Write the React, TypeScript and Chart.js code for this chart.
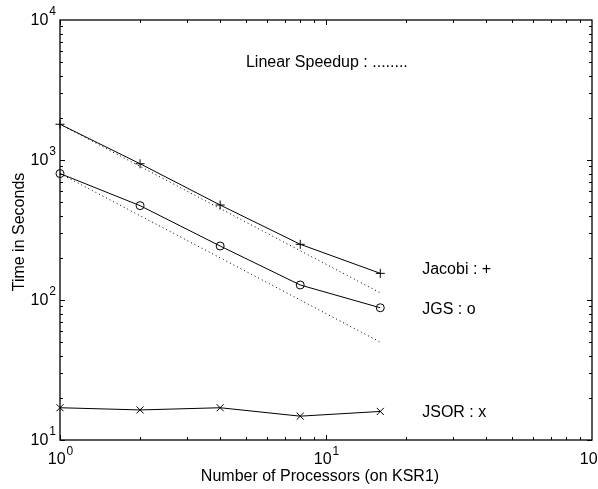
import React, { useEffect, useRef } from "react";
import { Chart, registerables } from "chart.js";

Chart.register(...registerables);

const processors = [1, 2, 4, 8, 16];
const jacobiTimes = [1800, 940, 477, 250, 155];
const jgsTimes = [800, 472, 243, 128, 88];
const jsorTimes = [17.0, 16.4, 17.0, 14.8, 16.0];
const jacobiLinear = [1800, 900, 450, 225, 112.5];
const jgsLinear = [800, 400, 200, 100, 50];

const xTickExps = [0, 1, 2];
const yTickExps = [1, 2, 3, 4];

const annotations = [
  { text: "Linear Speedup : ........", x: 5.0, y: 5000 },
  { text: "Jacobi : +", x: 23, y: 164 },
  { text: "JGS : o", x: 23, y: 85 },
  { text: "JSOR : x", x: 23, y: 15.8 },
];

const xTitle = "Number of Processors (on KSR1)";
const yTitle = "Time in Seconds";

const FONT = "'Liberation Sans', Arial, Helvetica, sans-serif";

const toPts = (ys: number[]) => processors.map((x, i) => ({ x, y: ys[i] }));

const framePlugin = {
  id: "frame",
  afterDraw(chart: any) {
    const ctx = chart.ctx as CanvasRenderingContext2D;
    const { left, right, top, bottom } = chart.chartArea;
    const xs = chart.scales.x;
    const ys = chart.scales.y;
    ctx.save();
    ctx.strokeStyle = "#000";
    ctx.fillStyle = "#000";
    ctx.lineWidth = 1.3;
    ctx.strokeRect(left, top, right - left, bottom - top);

    ctx.lineWidth = 1;
    ctx.beginPath();
    for (let e = 0; e < 2; e++) {
      for (let m = 1; m <= 9; m++) {
        const v = m * Math.pow(10, e);
        const px = Math.round(xs.getPixelForValue(v)) + 0.5;
        const len = m === 1 ? 5 : 3;
        ctx.moveTo(px, bottom);
        ctx.lineTo(px, bottom - len);
        ctx.moveTo(px, top);
        ctx.lineTo(px, top + len);
      }
    }
    for (let e = 1; e < 4; e++) {
      for (let m = 1; m <= 9; m++) {
        const v = m * Math.pow(10, e);
        const py = Math.round(ys.getPixelForValue(v)) + 0.5;
        const len = m === 1 ? 5 : 3;
        ctx.moveTo(left, py);
        ctx.lineTo(left + len, py);
        ctx.moveTo(right, py);
        ctx.lineTo(right - len, py);
      }
    }
    ctx.stroke();

    const big = `16px ${FONT}`;
    const small = `12px ${FONT}`;
    ctx.textBaseline = "middle";

    for (const e of xTickExps) {
      const px = xs.getPixelForValue(Math.pow(10, e));
      ctx.font = big;
      const w1 = ctx.measureText("10").width;
      ctx.font = small;
      const w2 = ctx.measureText(String(e)).width;
      const start = px - (w1 + w2) / 2;
      ctx.font = big;
      ctx.textAlign = "left";
      ctx.fillText("10", start, bottom + 20);
      ctx.font = small;
      ctx.fillText(String(e), start + w1 + 1, bottom + 12);
    }

    for (const e of yTickExps) {
      const py = ys.getPixelForValue(Math.pow(10, e));
      ctx.font = small;
      const w2 = ctx.measureText(String(e)).width;
      const endX = left - 4;
      ctx.textAlign = "left";
      ctx.fillText(String(e), endX - w2, py - 8);
      ctx.font = big;
      ctx.textAlign = "right";
      ctx.fillText("10", endX - w2 - 1, py + 1);
    }

    ctx.font = big;
    ctx.textAlign = "center";
    ctx.fillText(xTitle, (left + right) / 2 - 6, 477);
    ctx.save();
    ctx.translate(20, (top + bottom) / 2 + 2);
    ctx.rotate(-Math.PI / 2);
    ctx.fillText(yTitle, 0, 0);
    ctx.restore();

    ctx.textAlign = "left";
    for (const a of annotations) {
      ctx.fillText(a.text, xs.getPixelForValue(a.x), ys.getPixelForValue(a.y));
    }
    ctx.restore();
  },
};

export default function App() {
  const ref = useRef<HTMLCanvasElement | null>(null);
  useEffect(() => {
    document.body.style.margin = "0";
    const canvas = ref.current!;
    const solid = (label: string, ys: number[], style: string, r: number) => ({
      label,
      data: toPts(ys),
      borderColor: "#000",
      backgroundColor: "transparent",
      borderWidth: 1,
      pointStyle: style,
      pointRadius: r,
      pointBorderColor: "#000",
      pointBorderWidth: 1,
      pointBackgroundColor: "transparent",
      tension: 0,
      clip: false,
    });
    const dotted = (label: string, ys: number[]) => ({
      label,
      data: toPts(ys),
      borderColor: "#000",
      borderWidth: 1,
      borderDash: [1, 3],
      pointRadius: 0,
      tension: 0,
      clip: false,
    });
    const chart = new Chart(canvas, {
      type: "line",
      data: {
        datasets: [
          dotted("Jacobi linear", jacobiLinear),
          dotted("JGS linear", jgsLinear),
          solid("Jacobi", jacobiTimes, "cross", 4.5),
          solid("JGS", jgsTimes, "circle", 4),
          solid("JSOR", jsorTimes, "crossRot", 5),
        ] as any,
      },
      options: {
        responsive: false,
        animation: false,
        layout: { padding: { left: 60, top: 20, right: 6, bottom: 49 } },
        plugins: { legend: { display: false }, tooltip: { enabled: false } },
        scales: {
          x: { type: "logarithmic", min: 1, max: 100, display: false },
          y: { type: "logarithmic", min: 10, max: 10000, display: false },
        },
      },
      plugins: [framePlugin],
    });
    return () => chart.destroy();
  }, []);
  return <canvas ref={ref} width={598} height={489} style={{ display: "block" }} />;
}
